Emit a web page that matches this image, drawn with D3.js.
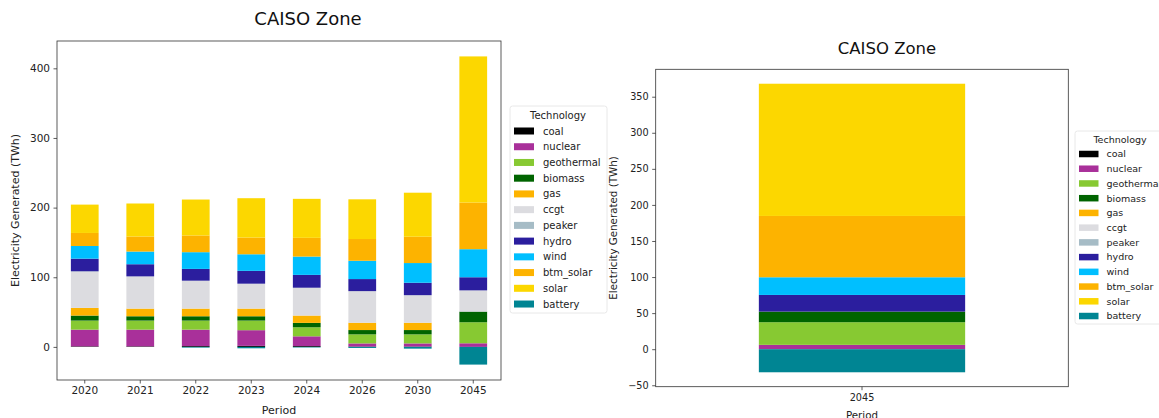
<!DOCTYPE html>
<html>
<head>
<meta charset="utf-8">
<script src="https://cdn.jsdelivr.net/npm/d3@7"></script>
<style>
  html, body { margin: 0; padding: 0; background: #fff; }
  svg { display: block; font-family: "DejaVu Sans", sans-serif; }
</style>
</head>
<body>
<svg id="chart" width="1159" height="418"></svg>
<script>
// ---------- data ----------
const technologies = ["coal","nuclear","geothermal","biomass","gas","ccgt","peaker","hydro","wind","btm_solar","solar","battery"];
const techColors = ["#000000","#a9309a","#87c932","#006400","#fdb300","#dcdce0","#a6bcc6","#2b1e9e","#00bfff","#fdb300","#fcd700","#008593"];

const periodsLeft = ["2020","2021","2022","2023","2024","2026","2030","2045"];
const coalLeft       = [0.8, 0.8, 1.2, 1.5, 1.2, 0.5, 0.5, 0];
const nuclearLeft    = [24, 24, 23.6, 22.5, 14, 4.5, 4.5, 5.2];
const geothermalLeft = [13, 13, 13, 13.8, 13, 13, 13, 30.2];
const biomassLeft    = [7.2, 6.2, 6.2, 6.2, 6.3, 6.2, 6.2, 15.3];
const gasLeft        = [11, 11, 11, 11, 10.5, 10.5, 10.5, 0];
const ccgtLeft       = [52, 46, 39.8, 35.5, 39.7, 45.1, 39.3, 30.2];
const peakerLeft     = [0.6, 0.3, 0.3, 0.3, 0.3, 0.3, 0.3, 0.3];
const hydroLeft      = [18.1, 17.4, 16.9, 18.4, 18.4, 17.3, 17.8, 18.8];
const windLeft       = [18.2, 18.2, 24, 23.8, 26.3, 26.3, 28.3, 40.3];
const btmSolarLeft   = [18.7, 21.6, 24, 24, 26.9, 31.2, 37.8, 67];
const solarLeft      = [40.7, 47.4, 51.6, 56.5, 56, 57, 63.2, 209.8];
const batteryLeft    = [0, 0, -1, -2, -0.8, -1.5, -2.5, -25.4];

const periodsRight = ["2045"];
const coalRight       = [0];
const nuclearRight    = [6];
const geothermalRight = [31.4];
const biomassRight    = [14.7];
const gasRight        = [0];
const ccgtRight       = [0];
const peakerRight     = [0];
const hydroRight      = [23.1];
const windRight       = [24.5];
const btmSolarRight   = [85];
const solarRight      = [183.3];
const batteryRight    = [-32];

const yTicksLeft  = [0, 100, 200, 300, 400];
const yTicksRight = [-50, 0, 50, 100, 150, 200, 250, 300, 350];

const titleText = "CAISO Zone";
const yLabelText = "Electricity Generated (TWh)";
const xLabelText = "Period";
const legendTitle = "Technology";

// ---------- helpers ----------
function buildRows(periods, series) {
  return periods.map((p, i) => {
    const r = { period: p };
    technologies.forEach((t, k) => { r[t] = series[k][i]; });
    return r;
  });
}

const svg = d3.select("#chart");
const axisColor = "#333";

function drawPanel(cfg) {
  const rows = buildRows(cfg.periods, cfg.series);
  const stack = d3.stack().keys(technologies).offset(d3.stackOffsetDiverging);
  const layers = stack(rows);
  const lo = d3.min(layers, l => d3.min(l, d => Math.min(d[0], d[1])));
  const hi = d3.max(layers, l => d3.max(l, d => Math.max(d[0], d[1])));
  const pad = (hi - lo) * 0.05;

  const x = d3.scaleBand().domain(cfg.periods).range([cfg.left, cfg.right]).paddingInner(0.5).paddingOuter(0.25);
  const y = d3.scaleLinear().domain([lo - pad, hi + pad]).range([cfg.bottom, cfg.top]);

  const g = svg.append("g");
  // bars
  layers.forEach((layer, k) => {
    g.append("g").attr("fill", techColors[k])
      .selectAll("rect").data(layer).join("rect")
      .attr("x", d => x(d.data.period))
      .attr("width", x.bandwidth())
      .attr("y", d => y(Math.max(d[0], d[1])))
      .attr("height", d => Math.abs(y(d[0]) - y(d[1])));
  });

  // frame
  g.append("rect").attr("x", cfg.left).attr("y", cfg.top)
    .attr("width", cfg.right - cfg.left).attr("height", cfg.bottom - cfg.top)
    .attr("fill", "none").attr("stroke", axisColor).attr("stroke-width", 0.8);

  // y axis
  const yAxis = d3.axisLeft(y).tickValues(cfg.yTicks).tickSize(3.5).tickPadding(3.5)
    .tickFormat(d => d < 0 ? "\u2212" + Math.abs(d) : d);
  const ya = g.append("g").attr("transform", `translate(${cfg.left},0)`).call(yAxis);
  ya.select(".domain").remove();
  ya.selectAll("line").attr("stroke", axisColor).attr("stroke-width", 0.8);
  ya.selectAll("text").attr("fill", "#222").style("font-size", cfg.tickFont + "px").style("font-family", "DejaVu Sans");

  // x axis
  const xAxis = d3.axisBottom(x).tickSize(3.5).tickPadding(3.5);
  const xa = g.append("g").attr("transform", `translate(0,${cfg.bottom})`).call(xAxis);
  xa.select(".domain").remove();
  xa.selectAll("line").attr("stroke", axisColor).attr("stroke-width", 0.8);
  xa.selectAll("text").attr("fill", "#222").style("font-size", cfg.tickFont + "px").style("font-family", "DejaVu Sans");

  // labels
  g.append("text").attr("x", cfg.titleX).attr("y", cfg.titleY).attr("text-anchor", "middle")
    .style("font-size", cfg.titleFont + "px").attr("fill", "#111").text(titleText);
  g.append("text").attr("transform", `translate(${cfg.yLabelX},${(cfg.top + cfg.bottom) / 2}) rotate(-90)`)
    .attr("text-anchor", "middle").style("font-size", cfg.labelFont + "px").attr("fill", "#222").text(yLabelText);
  g.append("text").attr("x", (cfg.left + cfg.right) / 2).attr("y", cfg.xLabelY).attr("text-anchor", "middle")
    .style("font-size", cfg.labelFont + "px").attr("fill", "#222").text(xLabelText);

  // legend
  const L = cfg.legend;
  const lg = svg.append("g");
  lg.append("rect").attr("x", L.x).attr("y", L.y).attr("width", L.w).attr("height", L.h)
    .attr("rx", 2.5).attr("fill", "#fff").attr("stroke", "#e2e2e2").attr("stroke-width", 0.8);
  lg.append("text").attr("x", L.titleX).attr("y", L.titleY).attr("text-anchor", "middle")
    .style("font-size", L.font + "px").attr("fill", "#222").text(legendTitle);
  technologies.forEach((t, i) => {
    const cy = L.firstY + i * L.step;
    lg.append("rect").attr("x", L.swX).attr("y", cy - L.swH / 2).attr("width", L.swW).attr("height", L.swH)
      .attr("fill", techColors[i]);
    lg.append("text").attr("x", L.textX).attr("y", cy).attr("dy", "0.35em")
      .style("font-size", L.font + "px").attr("fill", "#222").text(t);
  });
}

drawPanel({
  periods: periodsLeft,
  series: [coalLeft, nuclearLeft, geothermalLeft, biomassLeft, gasLeft, ccgtLeft, peakerLeft, hydroLeft, windLeft, btmSolarLeft, solarLeft, batteryLeft],
  yTicks: yTicksLeft,
  left: 57, right: 501, top: 41, bottom: 380,
  tickFont: 10.5, labelFont: 11, titleFont: 18,
  titleX: 308, titleY: 25, yLabelX: 19, xLabelY: 414,
  legend: { x: 510, y: 106, w: 97, h: 207, titleX: 558, titleY: 119, font: 10,
            firstY: 131, step: 15.73, swX: 514, swW: 20, swH: 7, textX: 543 }
});

drawPanel({
  periods: periodsRight,
  series: [coalRight, nuclearRight, geothermalRight, biomassRight, gasRight, ccgtRight, peakerRight, hydroRight, windRight, btmSolarRight, solarRight, batteryRight],
  yTicks: yTicksRight,
  left: 655.7, right: 1068.3, top: 69.3, bottom: 386.7,
  tickFont: 9.7, labelFont: 10.3, titleFont: 16.5,
  titleX: 887, titleY: 54, yLabelX: 617, xLabelY: 419,
  legend: { x: 1075, y: 131, w: 100, h: 193, titleX: 1120, titleY: 143, font: 9.5,
            firstY: 154, step: 14.73, swX: 1079, swW: 19.5, swH: 6.5, textX: 1106.5 }
});
</script>
</body>
</html>
